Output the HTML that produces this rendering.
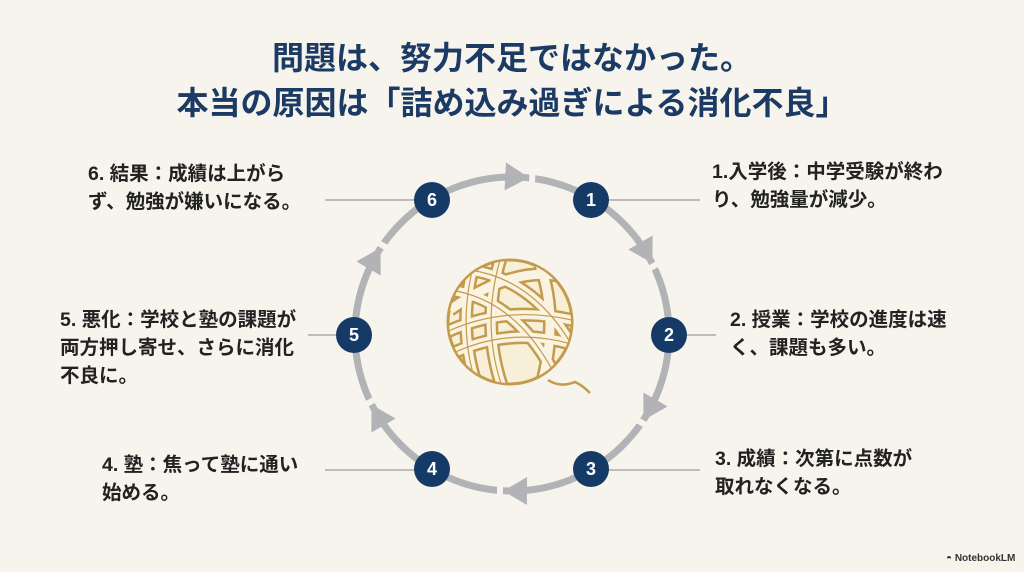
<!DOCTYPE html>
<html><head><meta charset="utf-8"><style>
body{margin:0;background:#f7f4ed;}
.w{position:relative;width:1024px;height:572px;overflow:hidden;background:#f7f4ed;font-family:"Liberation Sans","Noto Sans CJK JP",sans-serif;}
.t{position:absolute;left:0;width:1024px;text-align:center;color:#1c3b64;font-weight:bold;font-size:32px;line-height:42px;}
.l{position:absolute;color:#222;font-weight:bold;font-size:19.5px;line-height:28px;white-space:nowrap;}
</style></head><body><div class="w">
<div class="t" style="top:37px">問題は、努力不足ではなかった。</div>
<div class="t" style="top:82px">本当の原因は「詰め込み過ぎによる消化不良」</div>
<svg width="1024" height="572" style="position:absolute;left:0;top:0">
<defs>
<g id="ah">
<rect x="656" y="343" width="26" height="6" fill="#f7f4ed"/>
<polygon points="669,343 655,319 683,319" fill="#b2b3b7"/>
</g>
</defs>
<g stroke="#9a9a9a" stroke-width="1.2">
<line x1="325" y1="200" x2="420" y2="200"/><line x1="600" y1="200" x2="700" y2="200"/>
<line x1="308" y1="335" x2="340" y2="335"/><line x1="680" y1="335" x2="716" y2="335"/>
<line x1="325" y1="470" x2="420" y2="470"/><line x1="600" y1="470" x2="700" y2="470"/>
</g>
<circle cx="512" cy="334" r="157" fill="none" stroke="#b2b3b7" stroke-width="7"/>
<use href="#ah" transform="rotate(-87 512 334)"/>
<use href="#ah" transform="rotate(-30 512 334)"/>
<use href="#ah" transform="rotate(30 512 334)"/>
<use href="#ah" transform="rotate(90 512 334)"/>
<use href="#ah" transform="rotate(150 512 334)"/>
<use href="#ah" transform="rotate(210 512 334)"/>
<g fill="#153a66">
<circle cx="591" cy="200" r="18"/><circle cx="669" cy="335" r="18"/><circle cx="591" cy="469" r="18"/>
<circle cx="432" cy="469" r="18"/><circle cx="354" cy="335" r="18"/><circle cx="432" cy="200" r="18"/>
</g>
<g fill="#fff" font-family="Liberation Sans" font-weight="bold" font-size="18" text-anchor="middle">
<text x="591" y="206">1</text><text x="669" y="341">2</text><text x="591" y="475">3</text>
<text x="432" y="475">4</text><text x="354" y="341">5</text><text x="432" y="206">6</text>
</g>
<clipPath id="c"><circle cx="510" cy="322" r="61"/></clipPath>
<circle cx="510" cy="322" r="62" fill="#f8efd8" stroke="#c39b4d" stroke-width="3"/>
<g clip-path="url(#c)" fill="none">
<g stroke="#c39b4d" stroke-width="14">
<path d="M440 360 Q510 320 590 350"/><path d="M440 335 Q510 300 590 325"/>
<path d="M475 260 Q455 330 480 395"/><path d="M500 260 Q480 330 505 395"/>
<path d="M450 290 Q520 300 560 385"/><path d="M470 270 Q540 280 580 360"/>
<path d="M450 310 Q520 260 575 280"/><path d="M540 265 Q560 320 540 390"/>
</g>
<g stroke="#faf3e1" stroke-width="9">
<path d="M440 360 Q510 320 590 350"/><path d="M440 335 Q510 300 590 325"/>
<path d="M475 260 Q455 330 480 395"/><path d="M500 260 Q480 330 505 395"/>
<path d="M450 290 Q520 300 560 385"/><path d="M470 270 Q540 280 580 360"/>
<path d="M450 310 Q520 260 575 280"/><path d="M540 265 Q560 320 540 390"/>
</g>
<g stroke="#c39b4d" stroke-width="1.2">
<path d="M440 360 Q510 320 590 350"/><path d="M440 335 Q510 300 590 325"/>
<path d="M475 260 Q455 330 480 395"/><path d="M500 260 Q480 330 505 395"/>
<path d="M450 290 Q520 300 560 385"/><path d="M470 270 Q540 280 580 360"/>
</g>
</g>
<path d="M548 380 Q560 388 575 382 Q582 385 590 393" fill="none" stroke="#c39b4d" stroke-width="2.5"/>
</svg>
<div class="l" style="left:88px;top:160px">6. 結果：成績は上がら<br>ず、勉強が嫌いになる。</div>
<div class="l" style="left:712px;top:158px">1.入学後：中学受験が終わ<br>り、勉強量が減少。</div>
<div class="l" style="left:730px;top:306px">2. 授業：学校の進度は速<br>く、課題も多い。</div>
<div class="l" style="left:60px;top:306px">5. 悪化：学校と塾の課題が<br>両方押し寄せ、さらに消化<br>不良に。</div>
<div class="l" style="left:102px;top:451px">4. 塾：焦って塾に通い<br>始める。</div>
<div class="l" style="left:715px;top:445px">3. 成績：次第に点数が<br>取れなくなる。</div>
<div style="position:absolute;left:946px;top:553px;font:bold 10px 'Liberation Sans',sans-serif;color:#333">◓ NotebookLM</div>
</div></body></html>
